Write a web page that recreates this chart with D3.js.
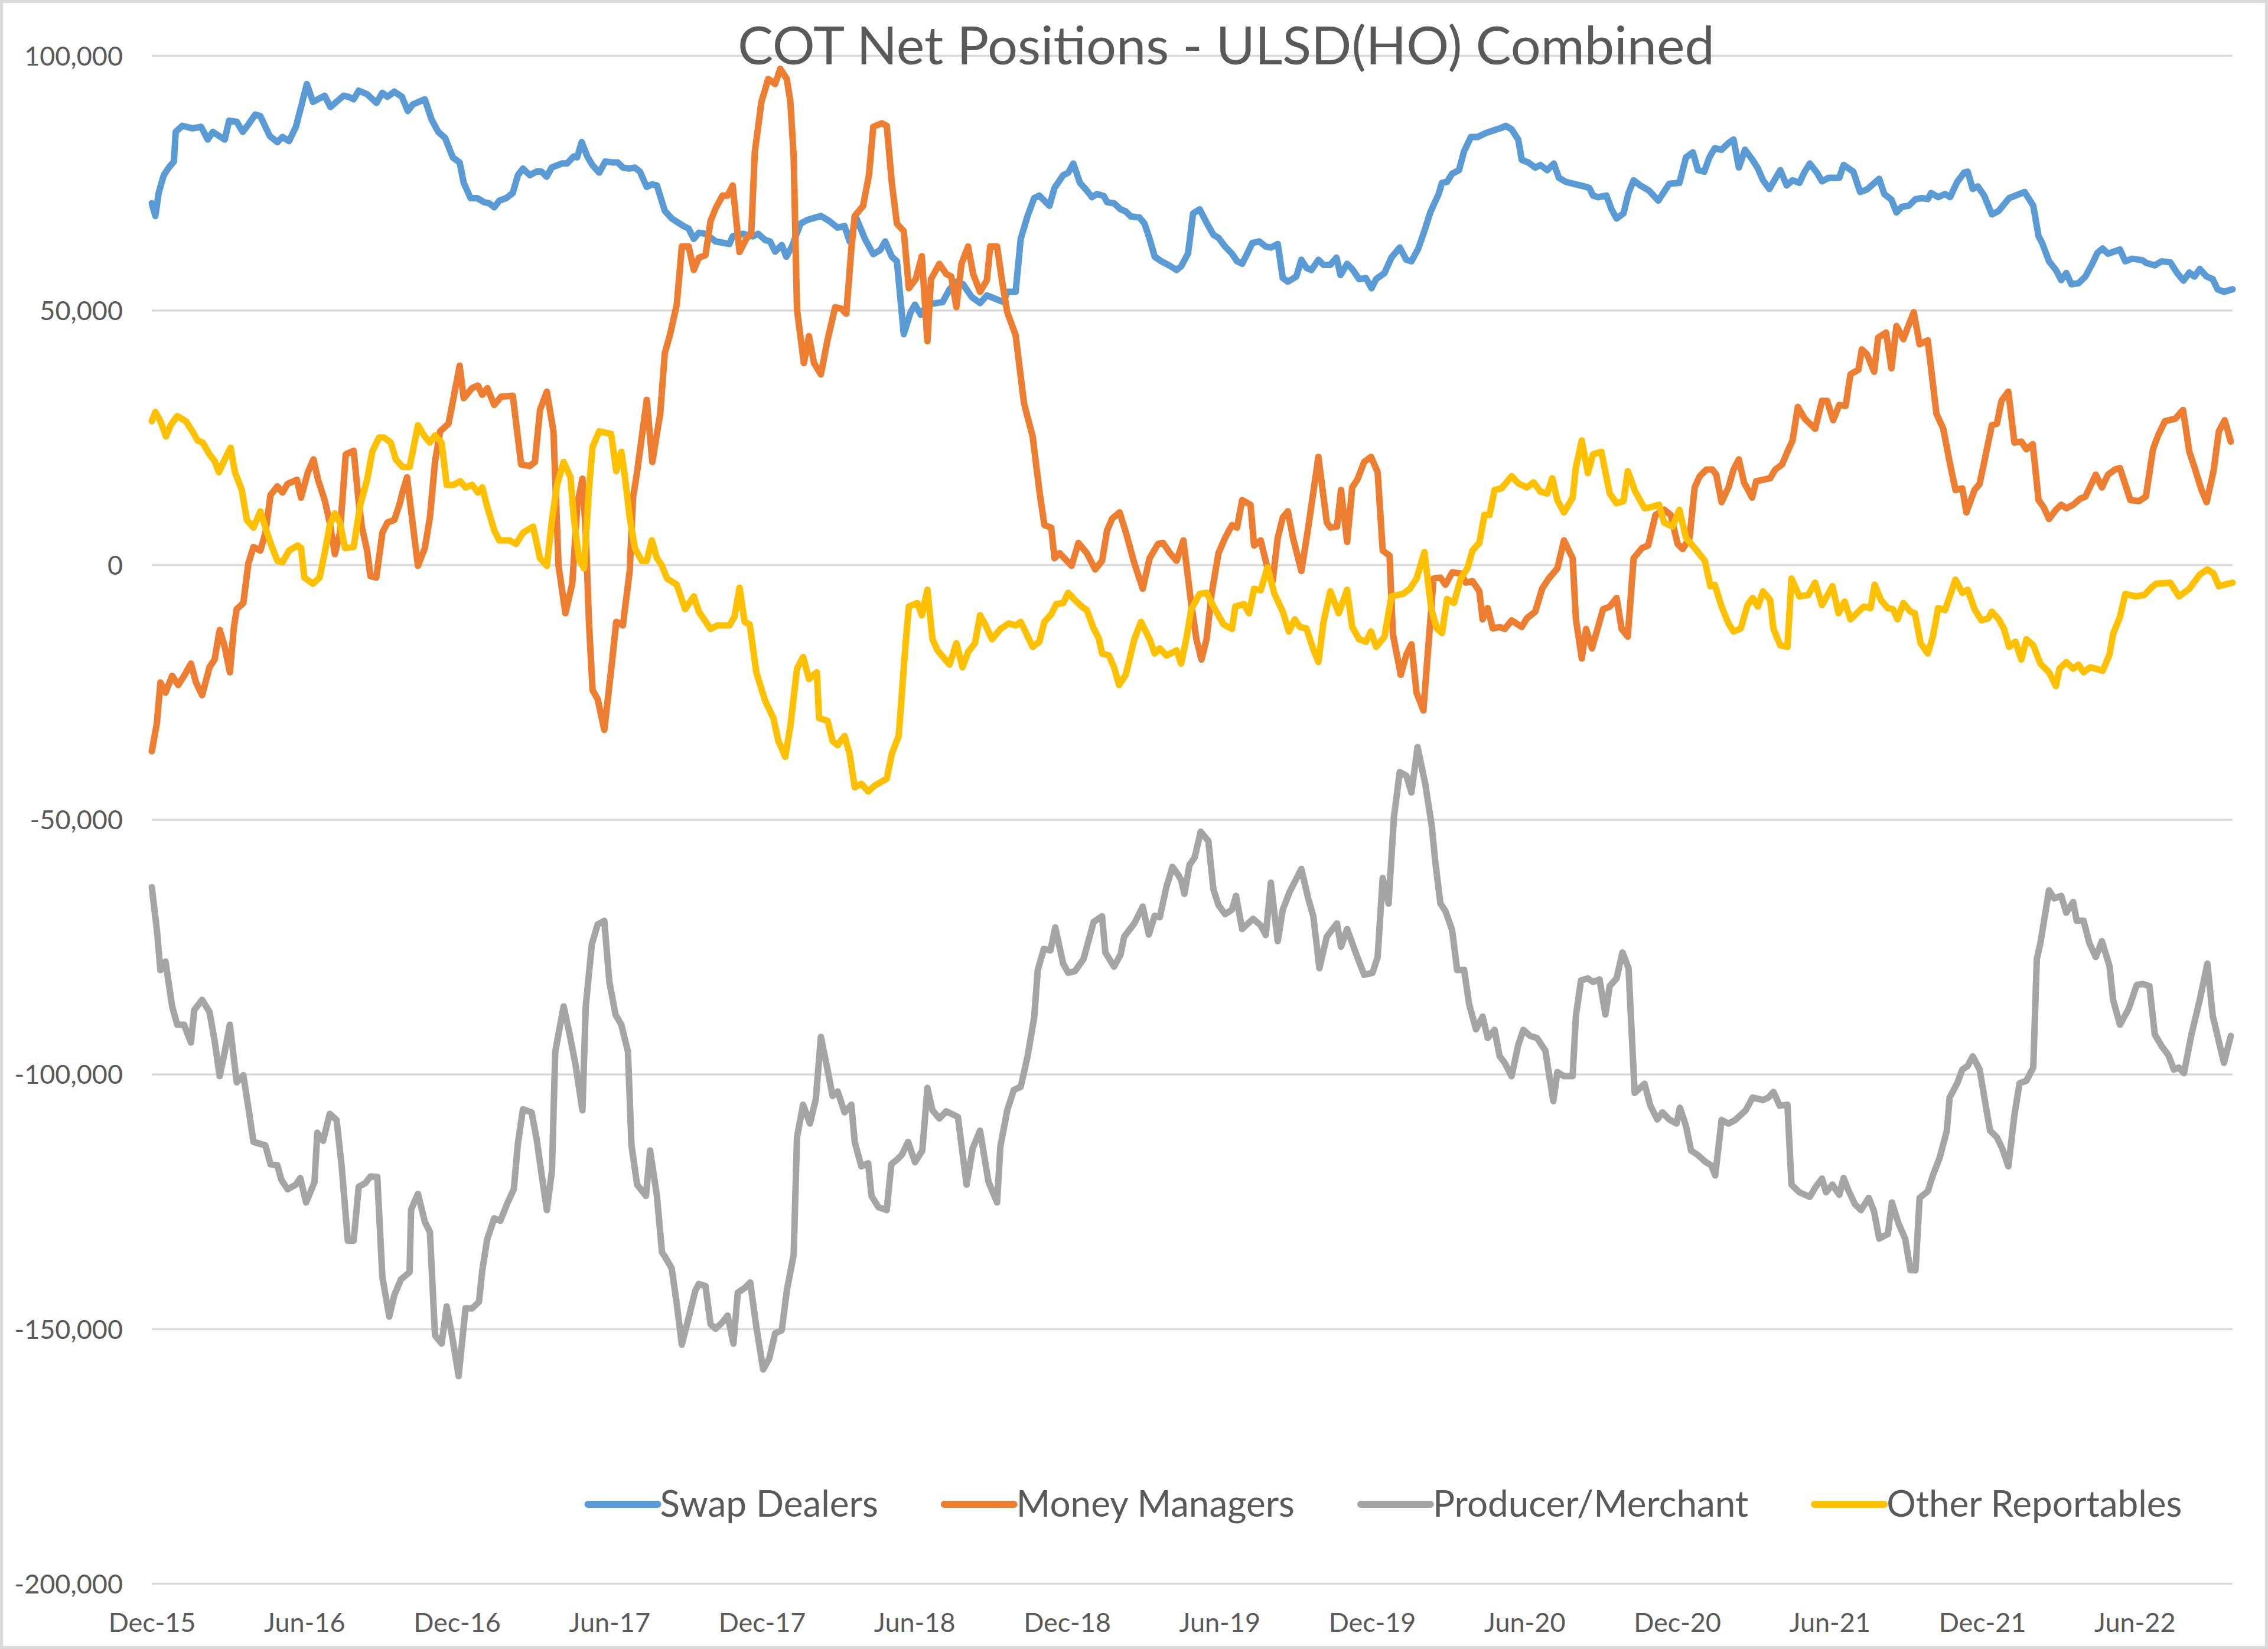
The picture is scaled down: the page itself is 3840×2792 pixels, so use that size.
<!DOCTYPE html>
<html>
<head>
<meta charset="utf-8">
<script src="https://cdn.jsdelivr.net/npm/d3@7"></script>
<style>
body{margin:0;background:#fff;}
svg text{font-family:Lato, "Open Sans", sans-serif;fill:#595959;}
</style>
</head>
<body>
<script>
// points are [months after 1 Dec 2015, net position in thousands of contracts]
var swapDealers = [[0,71.0],[0.14,68.5],[0.27,73.0],[0.47,76.5],[0.67,78.0],[0.87,79.2],[0.94,85.0],[1.20,86.2],[1.60,85.7],[1.94,86.0],[2.20,83.5],[2.40,85.0],[2.87,83.5],[3.04,87.2],[3.34,87.0],[3.58,85.0],[3.80,86.5],[4.07,88.4],[4.27,88.1],[4.64,84.2],[4.94,83.0],[5.14,84.0],[5.40,83.2],[5.67,86.0],[5.87,89.9],[6.10,94.4],[6.34,90.9],[6.80,92.1],[7.03,89.9],[7.54,92.1],[7.74,91.9],[7.94,91.4],[8.14,93.1],[8.47,92.4],[8.84,90.7],[9.07,92.7],[9.27,91.9],[9.54,92.9],[9.84,91.9],[10.07,89.1],[10.27,90.4],[10.74,91.4],[11.00,87.5],[11.27,85.0],[11.54,83.8],[11.84,80.0],[12.11,79.0],[12.27,75.0],[12.54,72.0],[12.80,72.0],[13.07,71.2],[13.27,71.0],[13.47,70.2],[13.67,71.5],[13.94,72.0],[14.20,73.0],[14.40,76.5],[14.60,77.8],[14.87,76.5],[15.13,77.2],[15.33,77.2],[15.53,76.2],[15.73,78.0],[16.13,78.8],[16.33,78.8],[16.60,80.2],[16.73,80.0],[16.91,83.0],[17.13,80.2],[17.33,78.5],[17.60,77.0],[17.84,79.2],[18.13,79.0],[18.33,79.0],[18.53,78.0],[18.80,77.8],[19.00,78.0],[19.20,77.2],[19.47,74.2],[19.67,74.7],[19.87,74.5],
  [20.18,69.5],[20.45,68.0],[20.92,66.5],[21.12,66.0],[21.32,64.0],[21.52,65.2],[21.78,65.0],[22.18,63.5],[22.72,63.0],[22.85,64.5],[23.25,65.0],[23.65,64.5],[23.85,65.0],[24.12,63.8],[24.32,63.5],[24.52,61.5],[24.78,62.8],[24.96,60.5],[25.18,62.5],[25.52,67.0],[25.78,67.7],[26.32,68.5],[26.65,67.5],[26.98,66.2],[27.25,66.5],[27.45,63.5],[27.72,68.0],[28.05,64.0],[28.38,61.0],[28.65,61.8],[28.85,63.5],[29.11,60.5],[29.31,59.6],[29.58,45.3],[29.85,49.6],[30.02,51.1],[30.25,49.1],[30.51,51.1],[31.11,51.6],[31.38,54.1],[31.65,55.6],[31.91,55.1],[32.25,52.6],[32.58,51.4],[32.85,52.9],[33.25,52.1],[33.51,51.6],[33.65,53.6],[33.98,53.6],[34.18,64.0],[34.45,68.5],[34.71,72.0],[34.91,72.5],[35.31,70.5],[35.51,74.0],[35.85,76.5],[36.05,77.0],[36.25,78.8],[36.51,75.0],[36.78,73.5],[36.98,72.2],[37.18,72.8],[37.45,72.4],[37.58,71.2],[37.85,71.0],[38.11,69.8],[38.31,69.4],[38.51,68.4],[38.85,68.2],[39.05,67.0],[39.25,64.0],[39.45,60.5],[39.71,59.6],[39.98,58.9],[40.31,57.9],
  [40.49,58.6],[40.76,61.1],[40.96,69.0],[41.22,69.8],[41.49,67.2],[41.76,64.8],[41.96,64.2],[42.22,62.5],[42.49,61.1],[42.69,59.6],[42.89,59.1],[43.09,61.1],[43.29,63.2],[43.56,63.5],[43.82,62.5],[44.02,62.3],[44.29,63.0],[44.49,56.3],[44.69,55.6],[45.02,56.6],[45.22,59.9],[45.42,58.3],[45.62,57.9],[45.89,59.9],[46.09,58.9],[46.36,58.9],[46.60,60.3],[46.76,56.9],[47.02,59.1],[47.22,58.1],[47.49,56.1],[47.76,56.3],[47.98,54.3],[48.16,56.1],[48.49,57.3],[48.76,60.3],[49.09,62.3],[49.35,59.9],[49.55,59.6],[49.82,62.1],[50.09,66.0],[50.29,69.2],[50.62,72.8],[50.75,75.0],[50.95,75.2],[51.15,76.8],[51.42,77.5],[51.62,81.2],[51.89,84.0],[52.15,84.0],[52.49,84.8],[53.09,85.8],[53.26,86.2],[53.49,85.5],[53.75,83.5],[53.89,79.5],[54.15,79.0],[54.42,78.0],[54.62,78.5],[54.89,77.5],[55.15,78.8],[55.35,76.0],[55.62,75.2],[55.95,74.8],[56.35,74.3],[56.55,74.0],[56.69,72.5],[56.89,72.2],[57.22,72.5],[57.42,69.8],[57.62,68.0],[57.89,69.0],[58.09,73.0],[58.29,75.5],[58.55,74.5],[58.89,73.5],[59.26,71.5],[59.69,74.8],[60.09,75.0],[60.35,80.0],[60.62,81.0],[60.82,77.5],
  [61.07,77.2],[61.27,80.0],[61.48,81.8],[61.75,81.5],[62.02,82.8],[62.22,83.5],[62.43,78.0],[62.67,81.5],[62.97,79.5],[63.18,77.8],[63.38,75.5],[63.63,73.8],[63.86,75.8],[64.06,77.5],[64.31,74.5],[64.54,75.5],[64.81,75.0],[65.02,77.2],[65.22,78.8],[65.50,77.0],[65.70,75.3],[65.97,76.0],[66.38,76.0],[66.55,78.5],[66.93,77.2],[67.20,73.2],[67.47,73.7],[67.95,75.8],[68.15,72.8],[68.43,71.7],[68.63,69.2],[68.84,70.3],[69.11,70.5],[69.38,71.8],[69.65,72.0],[69.86,71.8],[69.99,73.0],[70.27,72.2],[70.54,72.8],[70.74,72.2],[71.02,75.2],[71.29,77.0],[71.43,77.2],[71.63,73.8],[71.83,74.3],[72.08,72.5],[72.38,68.8],[72.65,69.5],[73.06,72.0],[73.67,73.2],[74.01,70.5],[74.22,64.5],[74.36,63.2],[74.63,59.6],[74.90,57.9],[75.11,55.9],[75.31,57.3],[75.51,55.1],[75.79,55.3],[76.06,56.6],[76.33,59.1],[76.54,61.3],[76.74,62.1],[76.95,61.1],[77.42,61.9],[77.63,59.6],[77.90,60.1],[78.31,59.8],[78.44,59.3],[78.79,58.8],[79.06,59.6],[79.40,59.4],[79.67,57.3],[79.92,55.8],[80.15,57.4],[80.35,56.6],[80.56,58.1],[80.83,56.6],[81.07,56.1],[81.26,54.1],[81.51,53.6],[81.85,54.1]];

var moneyManagers = [[0,-36.6],[0.20,-31.1],[0.34,-23.1],[0.54,-25.1],[0.80,-21.8],[1.04,-23.6],[1.27,-21.8],[1.54,-19.4],[1.74,-23.1],[1.98,-25.6],[2.27,-20.1],[2.47,-18.6],[2.67,-12.8],[2.87,-16.1],[3.07,-21.1],[3.23,-12.2],[3.34,-8.7],[3.60,-7.5],[3.80,0.3],[4.00,3.5],[4.27,2.8],[4.47,6.3],[4.67,13.7],[4.94,15.4],[5.14,14.2],[5.34,15.9],[5.71,16.7],[5.87,13.2],[6.14,18.2],[6.36,20.7],[6.54,16.7],[6.80,12.7],[7.00,8.3],[7.20,2.1],[7.40,6.3],[7.63,21.7],[7.94,22.4],[8.14,12.3],[8.27,7.3],[8.47,2.8],[8.60,-2.2],[8.83,-2.5],[9.07,6.3],[9.27,8.3],[9.54,8.8],[9.74,11.8],[9.87,14.4],[10.04,17.2],[10.27,7.8],[10.47,-0.2],[10.74,3.3],[10.94,9.3],[11.14,20.2],[11.34,26.2],[11.67,27.7],[11.80,31.0],[12.11,39.1],[12.27,32.7],[12.60,34.7],[12.83,35.2],[13.00,33.4],[13.20,34.7],[13.47,31.4],[13.74,33.0],[14.20,33.2],[14.53,19.7],[14.87,19.4],[15.07,20.2],[15.27,30.4],[15.54,34.0],[15.80,26.2],[16.00,-0.2],[16.27,-9.5],[16.54,-3.7],[16.74,11.8],[16.94,16.9],[17.07,6.3],[17.20,-11.7],[17.34,-24.6],[17.54,-26.4],[17.80,-32.4],[18.07,-20.6],[18.27,-11.2],[18.53,-11.9],[18.80,-1.2],[18.93,13.2],[19.09,18.2],[19.47,32.4],[19.69,20.2],[20.00,29.7],
  [20.18,41.6],[20.38,45.1],[20.65,51.1],[20.85,62.5],[21.12,62.5],[21.32,57.9],[21.52,60.3],[21.78,60.8],[21.98,67.5],[22.18,70.0],[22.45,72.5],[22.65,72.5],[22.85,74.5],[23.12,61.4],[23.38,64.0],[23.58,65.0],[23.72,81.0],[23.98,90.9],[24.25,95.4],[24.52,94.4],[24.72,97.4],[24.98,95.4],[25.12,90.9],[25.25,80.0],[25.38,50.1],[25.65,39.6],[25.85,44.9],[26.05,39.6],[26.32,37.4],[26.58,44.1],[26.88,50.6],[27.12,50.3],[27.32,49.3],[27.52,62.1],[27.65,68.5],[27.98,70.5],[28.21,76.5],[28.38,86.0],[28.71,86.7],[28.91,86.2],[29.11,75.0],[29.31,67.0],[29.58,65.5],[29.78,54.3],[30.05,56.1],[30.29,60.6],[30.51,43.9],[30.65,56.1],[30.98,59.1],[31.25,57.1],[31.45,56.6],[31.65,50.6],[31.85,59.1],[32.11,62.5],[32.31,57.1],[32.58,53.6],[32.85,55.9],[32.98,62.5],[33.25,62.5],[33.45,55.6],[33.65,49.6],[33.98,45.1],[34.31,31.7],[34.65,25.2],[34.91,14.7],[35.11,7.8],[35.38,7.3],[35.51,1.3],[35.71,2.3],[36.18,-0.2],[36.45,4.3],[36.78,2.3],[37.11,-0.9],[37.38,0.8],[37.58,6.8],[37.78,9.1],[38.07,10.3],[38.31,6.5],[38.65,0.3],[38.98,-4.7],[39.25,1.3],[39.58,4.1],[39.78,4.3],[40.05,2.3],[40.31,0.8],[40.58,4.8],
  [40.89,-7.7],[41.09,-14.6],[41.29,-18.6],[41.49,-14.6],[41.69,-5.7],[41.96,2.3],[42.22,5.3],[42.49,7.8],[42.69,7.3],[42.89,12.7],[43.22,11.8],[43.36,3.8],[43.62,4.8],[43.89,-0.7],[44.09,-3.2],[44.29,5.3],[44.49,9.3],[44.69,10.5],[44.89,5.3],[45.22,-1.2],[45.49,7.3],[45.89,21.2],[46.22,8.3],[46.36,7.3],[46.62,7.5],[46.78,14.7],[47.02,4.5],[47.22,15.2],[47.42,16.7],[47.69,20.2],[47.96,21.2],[48.22,18.2],[48.42,2.8],[48.69,1.8],[48.82,-13.6],[49.13,-21.6],[49.35,-17.6],[49.55,-15.6],[49.75,-25.1],[50.02,-28.6],[50.42,-2.7],[50.69,-2.5],[50.89,-3.9],[51.15,-1.5],[51.49,-1.7],[51.69,-3.5],[51.95,-3.2],[52.22,-5.2],[52.35,-10.7],[52.55,-8.5],[52.75,-12.5],[53.02,-12.2],[53.22,-12.6],[53.49,-10.9],[53.89,-12.2],[54.09,-10.5],[54.42,-9.2],[54.69,-4.7],[54.95,-2.7],[55.29,-0.7],[55.55,4.8],[55.89,1.3],[56.02,-10.7],[56.25,-18.4],[56.42,-12.6],[56.65,-16.4],[57.09,-8.7],[57.35,-8.2],[57.62,-6.5],[57.82,-12.6],[58.06,-14.1],[58.29,1.3],[58.62,3.3],[58.86,3.8],[59.15,9.8],[59.49,10.8],[59.75,9.8],[60.02,4.1],[60.22,3.1],[60.49,5.3],[60.69,15.2],[60.89,17.4],[61.15,18.7],[61.39,18.7],
  [61.54,17.7],[61.75,12.3],[62.02,15.2],[62.22,18.7],[62.43,20.7],[62.63,16.2],[62.95,13.2],[63.11,16.4],[63.38,16.7],[63.66,17.0],[63.86,18.7],[64.13,19.7],[64.34,22.2],[64.54,24.4],[64.75,31.0],[65.02,28.7],[65.43,26.7],[65.70,32.2],[65.90,32.2],[66.14,28.4],[66.38,31.4],[66.63,31.2],[66.82,37.4],[67.13,38.3],[67.27,42.3],[67.47,41.3],[67.75,37.9],[67.91,44.6],[68.22,45.6],[68.43,38.6],[68.63,46.9],[68.90,44.3],[69.11,47.1],[69.31,49.6],[69.54,43.3],[69.86,44.1],[70.20,29.7],[70.47,26.7],[70.72,20.2],[70.95,14.7],[71.22,15.0],[71.38,10.3],[71.70,14.7],[71.90,15.9],[72.13,21.4],[72.38,27.4],[72.58,27.7],[72.76,32.2],[73.03,34.0],[73.27,24.0],[73.54,24.2],[73.74,22.7],[73.99,23.7],[74.22,12.7],[74.42,11.3],[74.63,9.0],[74.90,10.8],[75.11,11.8],[75.31,11.1],[75.58,11.8],[75.86,13.0],[76.06,13.4],[76.47,17.7],[76.71,15.2],[76.95,17.7],[77.22,18.7],[77.42,19.0],[77.83,12.7],[78.17,12.5],[78.44,13.4],[78.72,22.7],[78.92,25.4],[79.19,28.2],[79.60,28.7],[79.90,30.4],[80.15,22.2],[80.35,19.2],[80.63,14.7],[80.83,12.3],[81.10,18.4],[81.31,26.2],[81.54,28.4],[81.78,24.2]];

var producerMerchant = [[0,-63.3],[0.20,-71.7],[0.34,-79.6],[0.54,-77.9],[0.67,-82.3],[0.80,-86.7],[1.00,-90.3],[1.27,-90.3],[1.54,-93.8],[1.67,-87.4],[1.98,-85.4],[2.27,-87.8],[2.47,-93.4],[2.67,-100.4],[2.87,-95.6],[3.07,-90.3],[3.34,-101.6],[3.60,-100.2],[3.80,-106.6],[4.00,-113.3],[4.47,-114.0],[4.67,-117.7],[4.94,-117.9],[5.10,-120.8],[5.34,-122.6],[5.67,-121.7],[5.84,-120.4],[6.07,-125.2],[6.40,-121.2],[6.51,-111.5],[6.74,-113.1],[7.00,-107.8],[7.27,-109.0],[7.47,-118.1],[7.71,-132.7],[7.94,-132.7],[8.14,-122.1],[8.40,-121.4],[8.60,-120.1],[8.87,-120.2],[9.07,-139.8],[9.34,-147.6],[9.54,-143.4],[9.80,-140.3],[10.14,-138.9],[10.20,-126.6],[10.47,-123.5],[10.74,-129.0],[10.94,-131.0],[11.14,-151.3],[11.40,-152.9],[11.60,-145.6],[11.84,-152.2],[12.07,-159.3],[12.34,-146.0],[12.60,-146.0],[12.87,-144.7],[13.00,-138.5],[13.20,-132.3],[13.47,-128.3],[13.71,-128.8],[14.00,-125.2],[14.24,-122.6],[14.40,-113.7],[14.60,-106.9],[14.94,-107.5],[15.14,-112.8],[15.34,-119.9],[15.54,-126.7],[15.74,-119.0],[15.87,-95.6],[16.20,-86.7],[16.43,-92.0],[16.67,-98.2],[16.94,-107.1],[17.07,-86.7],[17.31,-74.5],[17.54,-70.6],[17.80,-69.9],[18.00,-81.9],[18.24,-88.3],[18.47,-90.3],[18.73,-95.6],[18.87,-114.0],[19.09,-121.7],[19.44,-123.9],[19.60,-115.0],[19.87,-123.9],[20.07,-135.0],
  [20.18,-135.8],[20.45,-138.1],[20.65,-145.1],[20.85,-153.1],[21.12,-147.8],[21.38,-142.5],[21.52,-141.2],[21.78,-141.6],[21.98,-149.1],[22.18,-150.0],[22.45,-148.7],[22.65,-147.4],[22.88,-152.9],[23.05,-142.9],[23.32,-142.0],[23.54,-140.9],[23.78,-149.6],[24.05,-158.0],[24.29,-155.8],[24.52,-150.9],[24.78,-150.3],[24.98,-142.5],[25.25,-135.4],[25.38,-112.4],[25.62,-106.0],[25.89,-109.7],[26.12,-104.9],[26.32,-92.7],[26.58,-99.1],[26.78,-104.3],[26.98,-103.4],[27.25,-107.5],[27.52,-106.0],[27.65,-113.3],[27.91,-118.1],[28.18,-117.5],[28.31,-123.9],[28.58,-126.1],[28.91,-126.7],[29.09,-117.7],[29.31,-116.8],[29.51,-115.8],[29.75,-113.3],[30.02,-117.3],[30.31,-115.0],[30.51,-102.7],[30.71,-107.1],[30.98,-108.7],[31.25,-107.3],[31.71,-108.4],[32.05,-121.7],[32.29,-114.6],[32.58,-111.1],[32.91,-121.1],[33.25,-125.2],[33.38,-114.2],[33.65,-107.1],[33.91,-103.1],[34.18,-102.5],[34.45,-96.5],[34.71,-88.9],[34.85,-79.6],[35.09,-75.4],[35.35,-75.7],[35.54,-71.2],[35.85,-78.3],[36.05,-80.1],[36.31,-79.8],[36.65,-77.4],[37.05,-70.1],[37.38,-69.0],[37.51,-76.1],[37.85,-78.9],[38.11,-76.5],[38.25,-73.0],[38.65,-70.4],[38.98,-67.1],[39.22,-72.6],[39.45,-68.9],[39.65,-69.2],[39.91,-63.3],[40.15,-59.3],[40.38,-60.9],
  [40.49,-61.9],[40.62,-64.6],[40.82,-58.9],[41.02,-57.5],[41.26,-52.4],[41.56,-54.2],[41.76,-63.7],[41.96,-66.8],[42.22,-68.6],[42.49,-67.7],[42.65,-65.0],[42.89,-71.5],[43.32,-69.5],[43.62,-70.8],[43.82,-72.7],[44.02,-62.4],[44.29,-73.9],[44.49,-67.7],[44.76,-64.2],[45.22,-59.7],[45.49,-65.5],[45.69,-69.0],[45.93,-79.2],[46.22,-73.0],[46.62,-70.4],[46.78,-75.0],[47.02,-71.5],[47.42,-77.0],[47.69,-80.5],[48.02,-80.1],[48.22,-77.0],[48.42,-61.5],[48.65,-66.5],[48.86,-49.6],[49.09,-40.7],[49.35,-41.4],[49.55,-44.7],[49.79,-35.8],[50.09,-42.9],[50.35,-51.3],[50.49,-58.4],[50.69,-66.5],[50.89,-68.0],[51.15,-71.7],[51.35,-79.6],[51.62,-79.5],[51.82,-86.3],[52.09,-91.2],[52.35,-88.7],[52.55,-92.9],[52.82,-91.3],[53.02,-96.5],[53.22,-97.8],[53.49,-100.4],[53.75,-94.3],[53.95,-91.3],[54.22,-92.5],[54.49,-92.9],[54.82,-95.4],[54.95,-99.6],[55.13,-105.3],[55.29,-99.6],[55.55,-100.4],[55.89,-100.4],[56.02,-88.5],[56.22,-81.6],[56.49,-81.2],[56.69,-81.9],[56.95,-81.4],[57.18,-88.3],[57.35,-82.7],[57.62,-81.2],[57.85,-76.1],[58.09,-79.2],[58.33,-103.7],[58.72,-101.9],[58.95,-106.2],[59.22,-108.9],[59.42,-107.5],[59.69,-108.9],[59.98,-109.7],[60.11,-106.6],[60.35,-110.2],[60.55,-115.0],[60.82,-115.9],
  [61.13,-117.3],[61.34,-117.9],[61.50,-119.9],[61.75,-109.0],[62.02,-109.7],[62.29,-109.0],[62.70,-107.1],[62.97,-104.6],[63.38,-105.1],[63.59,-104.6],[63.79,-103.5],[64.04,-106.2],[64.34,-106.0],[64.50,-121.7],[64.81,-123.2],[65.22,-124.1],[65.43,-122.3],[65.70,-120.5],[65.86,-123.2],[66.11,-121.7],[66.38,-123.7],[66.55,-120.4],[66.72,-122.6],[66.99,-125.5],[67.23,-126.7],[67.54,-124.3],[67.75,-127.0],[67.95,-132.3],[68.29,-131.4],[68.45,-125.2],[68.70,-129.2],[68.97,-132.3],[69.18,-138.5],[69.38,-138.5],[69.54,-124.3],[69.86,-123.0],[70.06,-119.9],[70.33,-116.4],[70.61,-111.1],[70.72,-104.6],[71.02,-101.8],[71.22,-99.1],[71.43,-98.4],[71.63,-96.5],[71.90,-99.1],[72.31,-111.1],[72.58,-112.4],[72.79,-114.6],[73.03,-118.1],[73.27,-108.0],[73.47,-101.8],[73.74,-101.3],[74.01,-98.7],[74.15,-77.4],[74.29,-74.3],[74.63,-63.9],[74.83,-65.5],[75.11,-65.0],[75.31,-68.3],[75.58,-66.2],[75.72,-69.9],[75.99,-69.9],[76.22,-74.3],[76.47,-77.0],[76.71,-73.9],[77.01,-78.8],[77.15,-85.4],[77.42,-90.3],[77.76,-87.2],[78.08,-82.5],[78.31,-82.3],[78.58,-82.7],[78.79,-92.2],[79.06,-94.5],[79.33,-96.3],[79.54,-99.1],[79.74,-98.7],[79.94,-99.8],[80.22,-92.5],[80.56,-85.4],[80.86,-78.3],[81.07,-88.5],[81.51,-97.8],[81.78,-92.5]];

var otherReportables = [[0,28.2],[0.14,30.0],[0.34,28.2],[0.56,25.2],[0.74,27.4],[1.00,29.2],[1.34,28.2],[1.60,26.2],[1.80,24.4],[2.00,24.0],[2.27,21.7],[2.47,20.4],[2.64,18.2],[2.87,20.7],[3.10,23.0],[3.27,18.2],[3.54,14.7],[3.74,8.8],[4.00,7.3],[4.27,10.5],[4.47,7.3],[4.67,4.3],[4.94,0.8],[5.14,0.5],[5.40,2.8],[5.74,3.8],[5.87,3.3],[6.00,-2.5],[6.34,-3.7],[6.60,-2.5],[6.80,2.3],[7.00,7.8],[7.20,10.1],[7.40,8.3],[7.60,3.3],[7.94,3.5],[8.20,11.8],[8.47,16.7],[8.67,22.2],[8.94,25.0],[9.14,25.0],[9.40,24.0],[9.60,20.7],[9.87,19.2],[10.14,19.2],[10.47,27.4],[10.74,25.2],[10.94,24.0],[11.14,25.4],[11.40,24.0],[11.60,15.7],[11.87,15.7],[12.14,16.4],[12.34,15.2],[12.60,15.7],[12.83,14.2],[13.00,15.2],[13.20,11.3],[13.47,6.8],[13.67,4.8],[14.07,4.8],[14.33,4.1],[14.60,6.3],[15.00,7.5],[15.27,1.3],[15.54,-0.2],[15.74,8.8],[15.94,15.7],[16.20,20.2],[16.47,17.2],[16.60,9.3],[16.80,1.3],[17.00,-0.7],[17.20,15.2],[17.34,23.2],[17.60,26.2],[18.07,25.7],[18.27,18.4],[18.47,22.2],[18.60,17.7],[18.80,9.3],[19.00,3.3],[19.27,0.8],[19.47,0.8],[19.67,4.8],[19.87,1.3],[20.07,-0.2],[20.27,-2.7],
  [20.65,-3.9],[20.98,-8.7],[21.32,-6.2],[21.52,-9.2],[21.98,-12.6],[22.25,-11.9],[22.72,-11.9],[22.92,-10.2],[23.12,-4.5],[23.32,-11.2],[23.52,-11.7],[23.78,-21.1],[24.12,-26.6],[24.45,-30.1],[24.65,-34.6],[24.92,-37.7],[25.12,-31.6],[25.38,-20.4],[25.62,-18.1],[25.85,-22.4],[26.16,-21.1],[26.25,-30.1],[26.58,-30.6],[26.78,-34.6],[26.98,-35.4],[27.25,-33.6],[27.45,-37.1],[27.65,-43.7],[27.91,-43.0],[28.18,-44.5],[28.45,-43.3],[28.91,-42.0],[29.11,-37.1],[29.38,-33.6],[29.65,-15.6],[29.78,-8.2],[30.11,-7.5],[30.29,-9.9],[30.51,-4.9],[30.71,-14.6],[30.91,-16.8],[31.38,-19.6],[31.65,-15.4],[31.89,-20.1],[32.11,-17.1],[32.38,-15.4],[32.58,-9.9],[32.78,-11.7],[33.05,-14.6],[33.38,-12.6],[33.71,-11.5],[33.98,-11.9],[34.18,-11.2],[34.65,-16.1],[34.91,-15.1],[35.11,-11.2],[35.38,-9.7],[35.58,-7.7],[35.85,-7.5],[36.05,-5.5],[36.31,-6.9],[36.58,-8.2],[36.78,-8.9],[37.05,-12.5],[37.25,-14.4],[37.38,-17.4],[37.65,-17.8],[37.85,-20.1],[38.05,-23.6],[38.31,-21.6],[38.65,-14.6],[38.91,-11.2],[39.25,-14.6],[39.45,-17.4],[39.65,-16.4],[39.91,-17.8],[40.31,-16.8],
  [40.49,-19.4],[40.69,-14.6],[40.89,-8.7],[41.22,-5.7],[41.49,-5.5],[41.82,-8.7],[42.16,-11.7],[42.49,-12.6],[42.62,-8.2],[42.96,-7.7],[43.16,-9.5],[43.36,-4.7],[43.62,-5.0],[43.89,-0.5],[44.16,-5.7],[44.49,-9.2],[44.73,-13.1],[44.96,-10.7],[45.16,-12.2],[45.42,-12.5],[45.69,-16.6],[45.89,-19.1],[46.09,-11.2],[46.36,-5.2],[46.69,-9.5],[47.02,-4.9],[47.22,-12.2],[47.49,-14.6],[47.76,-15.1],[47.96,-13.1],[48.16,-16.1],[48.49,-14.1],[48.76,-6.2],[49.22,-5.7],[49.49,-4.7],[49.75,-2.7],[50.06,2.5],[50.33,-8.7],[50.55,-12.5],[50.75,-13.4],[50.95,-6.7],[51.22,-7.5],[51.49,-2.7],[51.75,-0.7],[51.95,2.8],[52.22,4.3],[52.42,9.8],[52.62,9.8],[52.82,14.7],[53.09,15.0],[53.49,17.4],[53.75,16.0],[54.09,15.2],[54.35,16.2],[54.62,14.4],[54.89,14.0],[55.09,17.0],[55.29,12.7],[55.55,10.3],[55.89,13.2],[56.02,19.2],[56.25,24.4],[56.49,18.0],[56.69,21.7],[57.02,22.2],[57.35,14.0],[57.62,12.1],[57.89,12.5],[58.06,18.4],[58.35,14.4],[58.72,11.1],[58.95,11.3],[59.29,11.8],[59.49,8.3],[59.82,7.5],[60.09,10.8],[60.35,5.3],[60.69,3.3],[61.09,0.8],
  [61.31,-4.2],[61.48,-3.9],[61.75,-8.2],[62.02,-11.5],[62.22,-13.1],[62.50,-12.5],[62.77,-7.9],[62.97,-6.5],[63.18,-8.2],[63.38,-5.2],[63.66,-6.9],[63.79,-12.6],[64.06,-15.8],[64.34,-16.1],[64.50,-2.7],[64.81,-6.2],[65.16,-5.9],[65.43,-3.5],[65.70,-7.9],[66.11,-4.2],[66.35,-9.5],[66.59,-7.2],[66.82,-10.7],[67.13,-9.2],[67.34,-8.2],[67.61,-8.5],[67.77,-3.9],[68.02,-6.9],[68.29,-8.5],[68.49,-8.7],[68.67,-10.7],[68.90,-7.5],[69.18,-9.2],[69.35,-9.5],[69.58,-15.4],[69.86,-17.4],[70.06,-14.1],[70.27,-8.5],[70.54,-8.9],[70.95,-2.9],[71.22,-5.5],[71.43,-4.9],[71.70,-8.7],[71.97,-10.9],[72.24,-10.5],[72.38,-9.2],[72.65,-10.7],[72.86,-12.6],[73.06,-16.1],[73.31,-15.1],[73.54,-18.6],[73.74,-14.6],[74.01,-15.8],[74.29,-19.4],[74.63,-21.1],[74.90,-23.8],[75.04,-20.4],[75.31,-19.1],[75.58,-20.4],[75.79,-19.6],[75.99,-21.1],[76.26,-20.1],[76.74,-20.8],[77.01,-17.6],[77.15,-13.6],[77.42,-10.2],[77.63,-5.7],[78.04,-6.2],[78.38,-5.9],[78.65,-4.5],[78.85,-3.7],[79.40,-3.5],[79.74,-6.2],[80.15,-4.7],[80.56,-1.9],[80.86,-0.9],[81.10,-1.7],[81.31,-4.2],[81.85,-3.5]];

var tickLabels = ["Dec-15","Jun-16","Dec-16","Jun-17","Dec-17","Jun-18","Dec-18","Jun-19","Dec-19","Jun-20","Dec-20","Jun-21","Dec-21","Jun-22"];
var yTicks = [-200, -150, -100, -50, 0, 50, 100];
var seriesNames = ["Swap Dealers", "Money Managers", "Producer/Merchant", "Other Reportables"];
var seriesColors = ["#5b9bd5", "#ed7d31", "#a5a5a5", "#ffc000"];
var titleText = "COT Net Positions - ULSD(HO) Combined";

var allSeries = [swapDealers, moneyManagers, producerMerchant, otherReportables];

var w = 3840, h = 2792;
var plotLeft = 257, plotRight = 3780, plotTop = 94, plotBottom = 2681;

//plain hyphen for negatives, like the spreadsheet
var numFormat = d3.formatLocale({decimal: ".", thousands: ",", grouping: [3], currency: ["$", ""], minus: "-"}).format(",");

var svg = d3.select("body").append("svg")
	.attr("width", w)
	.attr("height", h);

//chart area with the light border
svg.append("rect")
	.attr("x", 2.5).attr("y", 2.5)
	.attr("width", w - 5).attr("height", h - 5)
	.attr("fill", "white")
	.attr("stroke", "#d9d9d9")
	.attr("stroke-width", 5);

var lastMonth = d3.max(allSeries, function(s){ return s[s.length-1][0]; });

var x = d3.scaleLinear().domain([0, lastMonth]).range([plotLeft, plotRight]);
var y = d3.scaleLinear().domain([-200, 100]).range([plotBottom, plotTop]);

//y axis + gridlines
var yAxis = svg.append("g")
	.attr("transform", "translate(" + plotLeft + ",0)")
	.call(d3.axisLeft(y)
		.tickValues(yTicks)
		.tickSize(-(plotRight - plotLeft))
		.tickPadding(49)
		.tickFormat(function(d){ return numFormat(d * 1000); }));
yAxis.select(".domain").remove();
yAxis.attr("font-family", null);
yAxis.selectAll("line").attr("stroke", "#d9d9d9").attr("stroke-width", 3.5);
yAxis.selectAll("text")
	.attr("font-size", 45)
	.attr("dy", "0.36em");

//x axis labels
var xAxis = svg.append("g")
	.attr("transform", "translate(0," + plotBottom + ")")
	.call(d3.axisBottom(x)
		.tickValues(d3.range(0, tickLabels.length * 6, 6))
		.tickSize(0)
		.tickFormat(function(d, i){ return tickLabels[i]; }));
xAxis.select(".domain").remove();
xAxis.attr("font-family", null);
xAxis.selectAll("text")
	.attr("font-size", 45)
	.attr("y", 82)
	.attr("dy", null);

//the four lines
var line = d3.line()
	.x(function(d){ return x(d[0]); })
	.y(function(d){ return y(d[1]); });

svg.selectAll(".series")
	.data(allSeries)
	.enter()
	.append("path")
	.attr("class", "series")
	.attr("d", line)
	.attr("fill", "none")
	.attr("stroke", function(d, i){ return seriesColors[i]; })
	.attr("stroke-width", 11)
	.attr("stroke-linejoin", "round")
	.attr("stroke-linecap", "round");

//title
svg.append("text")
	.attr("x", 2076)
	.attr("y", 109)
	.attr("text-anchor", "middle")
	.attr("font-size", 90)
	.text(titleText);

//legend, laid out from the text widths and centred
var legendY = 2547, swatch = 118, gapText = 4, gapItem = 112;
var legend = svg.append("g");
var items = legend.selectAll("g")
	.data(seriesNames)
	.enter()
	.append("g");
items.append("line")
	.attr("x1", 0).attr("x2", swatch)
	.attr("y1", legendY).attr("y2", legendY)
	.attr("stroke", function(d, i){ return seriesColors[i]; })
	.attr("stroke-width", 12)
	.attr("stroke-linecap", "round");
items.append("text")
	.attr("x", swatch + gapText)
	.attr("y", legendY + 21)
	.attr("font-size", 62)
	.text(function(d){ return d; });

var pos = 0, offsets = [];
items.each(function(d, i){
	offsets.push(pos);
	pos += swatch + gapText + this.querySelector("text").getComputedTextLength() + gapItem;
});
var total = pos - gapItem;
var start = 2345 - total / 2;
items.attr("transform", function(d, i){ return "translate(" + (start + offsets[i]) + ",0)"; });
</script>
</body>
</html>
